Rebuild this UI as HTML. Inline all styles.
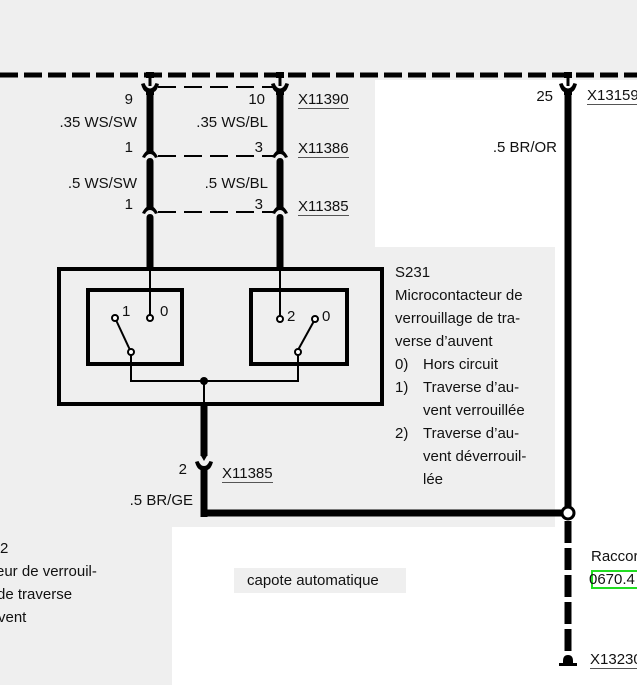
<!DOCTYPE html>
<html><head><meta charset="utf-8"><style>
body{margin:0;width:637px;height:685px;overflow:hidden;background:#fff;font-family:"Liberation Sans",Arial,sans-serif}
svg{display:block}
text{font-family:"Liberation Sans",Arial,sans-serif;font-size:15px;fill:#111}
</style></head><body>
<svg width="637" height="685" viewBox="0 0 637 685">
<rect x="0" y="0" width="637" height="685" fill="#fff"/>
<rect x="0" y="0" width="637" height="80" fill="#efefef"/>
<rect x="0" y="0" width="375" height="250" fill="#efefef"/>
<rect x="0" y="247" width="555" height="280" fill="#efefef"/>
<rect x="0" y="500" width="172" height="185" fill="#efefef"/>
<rect x="234" y="568" width="172" height="25" fill="#efefef"/>

<line x1="0" y1="75" x2="637" y2="75" stroke="#000" stroke-width="5" stroke-dasharray="18,6"/>
<rect x="146" y="72" width="8" height="6" fill="#000"/>
<rect x="276" y="72" width="8" height="6" fill="#000"/>
<rect x="564" y="72" width="8" height="6" fill="#000"/>

<g stroke="#000" stroke-width="2" stroke-dasharray="18,8">
<line x1="158" y1="87" x2="274" y2="87"/>
<line x1="158" y1="156" x2="274" y2="156"/>
<line x1="158" y1="212" x2="274" y2="212"/>
</g>

<defs>
<g id="cup"><path d="M-9,-4 Q-7,3 -4,4 L-4,7 L4,7 L4,4 Q7,3 9,-4 L5.5,-5 Q3.5,0.5 0,0.5 Q-3.5,0.5 -5.5,-5 Z" fill="#000"/><rect x="-1.5" y="-12" width="3" height="10" fill="#000"/></g>
<g id="pin"><path d="M-3.5,-8 L-3.5,-4 Q-6,-2 -8,2 L-5,3 Q-3,-1 0,-1 Q3,-1 5,3 L8,2 Q6,-2 3.5,-4 L3.5,-8 Z" fill="#000"/></g>
<g id="dome"><path d="M-3.5,10 L-3.5,4 Q-3.5,0 0,0 Q3.5,0 3.5,4 L3.5,10 Z" fill="#000"/></g>
</defs>

<use href="#cup" x="150" y="88"/>
<rect x="146.5" y="92" width="7" height="58" fill="#000"/>
<use href="#pin" x="150" y="155"/>
<use href="#dome" x="150" y="158"/>
<rect x="146.5" y="166" width="7" height="40" fill="#000"/>
<use href="#pin" x="150" y="211"/>
<use href="#dome" x="150" y="214"/>
<rect x="146.5" y="222" width="7" height="48" fill="#000"/>
<use href="#cup" x="280" y="88"/>
<rect x="276.5" y="92" width="7" height="58" fill="#000"/>
<use href="#pin" x="280" y="155"/>
<use href="#dome" x="280" y="158"/>
<rect x="276.5" y="166" width="7" height="40" fill="#000"/>
<use href="#pin" x="280" y="211"/>
<use href="#dome" x="280" y="214"/>
<rect x="276.5" y="222" width="7" height="48" fill="#000"/>

<rect x="59" y="269" width="323" height="135" fill="none" stroke="#000" stroke-width="4"/>
<rect x="88" y="290" width="94" height="74" fill="none" stroke="#000" stroke-width="4"/>
<rect x="251" y="290" width="96" height="74" fill="none" stroke="#000" stroke-width="4"/>
<g stroke="#000" stroke-width="2" fill="none">
<line x1="150" y1="270" x2="150" y2="315"/>
<line x1="280" y1="270" x2="280" y2="316"/>
<line x1="116" y1="320" x2="130" y2="350"/>
<line x1="314" y1="321" x2="298" y2="350"/>
<polyline points="131,355 131,381 298,381 298,355"/>
<line x1="204" y1="381" x2="204" y2="405"/>
<circle cx="115" cy="318" r="3" fill="#fff"/>
<circle cx="150" cy="318" r="3" fill="#fff"/>
<circle cx="131" cy="352" r="3" fill="#fff"/>
<circle cx="280" cy="319" r="3" fill="#fff"/>
<circle cx="315" cy="319" r="3" fill="#fff"/>
<circle cx="298" cy="352" r="3" fill="#fff"/>
</g>
<circle cx="204" cy="381" r="4" fill="#000"/>
<text x="122" y="316">1</text><text x="160" y="316">0</text>
<text x="287" y="321">2</text><text x="322" y="321">0</text>

<rect x="200.5" y="404" width="7" height="52" fill="#000"/>
<path d="M200.5,455 L204,461 L207.5,455 Z" fill="#000"/>
<path d="M195,462 Q197,469 200.5,470 L200.5,471 L207.5,471 L207.5,470 Q211,469 213,462 L209.5,461 Q207.5,466 204,466 Q200.5,466 198.5,461 Z" fill="#000"/>
<rect x="200.5" y="469" width="7" height="48" fill="#000"/>
<rect x="200.5" y="509.5" width="362" height="7" fill="#000"/>

<use href="#cup" x="568" y="88"/>
<rect x="564.5" y="92" width="7" height="415" fill="#000"/>
<line x1="568" y1="521" x2="568" y2="656" stroke="#000" stroke-width="7" stroke-dasharray="22,5"/>
<circle cx="568" cy="513" r="6" fill="#fff" stroke="#000" stroke-width="3"/>
<path d="M563,664 L563,661 Q563,655 568,655 Q573,655 573,661 L573,664 Z" fill="#000"/>
<rect x="559" y="663" width="18" height="3" fill="#000"/>

<g text-anchor="end">
<text x="133" y="104">9</text>
<text x="137" y="127">.35 WS/SW</text>
<text x="133" y="152">1</text>
<text x="137" y="188">.5 WS/SW</text>
<text x="133" y="209">1</text>
<text x="265" y="104">10</text>
<text x="268" y="127">.35 WS/BL</text>
<text x="263" y="152">3</text>
<text x="268" y="188">.5 WS/BL</text>
<text x="263" y="209">3</text>
<text x="553" y="101">25</text>
<text x="557" y="152">.5 BR/OR</text>
<text x="187" y="474">2</text>
<text x="193" y="505">.5 BR/GE</text>
</g>
<text x="298" y="104">X11390</text><rect x="298" y="108" width="51" height="1" fill="#555"/>
<text x="298" y="153">X11386</text><rect x="298" y="157" width="51" height="1" fill="#555"/>
<text x="298" y="211">X11385</text><rect x="298" y="215" width="51" height="1" fill="#555"/>
<text x="587" y="100">X13159</text><rect x="587" y="104" width="50" height="1" fill="#555"/>
<text x="222" y="478">X11385</text><rect x="222" y="482" width="51" height="1" fill="#555"/>
<text x="590" y="664">X13230</text><rect x="590" y="668" width="47" height="1" fill="#555"/>

<text x="395" y="277">S231</text>
<text x="395" y="300">Microcontacteur de</text>
<text x="395" y="323">verrouillage de tra-</text>
<text x="395" y="346">verse d’auvent</text>
<text x="395" y="369">0)</text><text x="423" y="369">Hors circuit</text>
<text x="395" y="392">1)</text><text x="423" y="392">Traverse d’au-</text>
<text x="423" y="415">vent verrouillée</text>
<text x="395" y="438">2)</text><text x="423" y="438">Traverse d’au-</text>
<text x="423" y="461">vent déverrouil-</text>
<text x="423" y="484">lée</text>

<text x="0" y="553">2</text>
<text x="-4" y="576">eur de verrouil-</text>
<text x="-3" y="599"> de traverse</text>
<text x="-2" y="622">vent</text>

<text x="247" y="585">capote automatique</text>

<text x="591" y="561">Raccor</text>
<rect x="592" y="571" width="46" height="17" fill="none" stroke="#22dd22" stroke-width="2"/>
<text x="589" y="584">0670.4</text>
</svg>
</body></html>
